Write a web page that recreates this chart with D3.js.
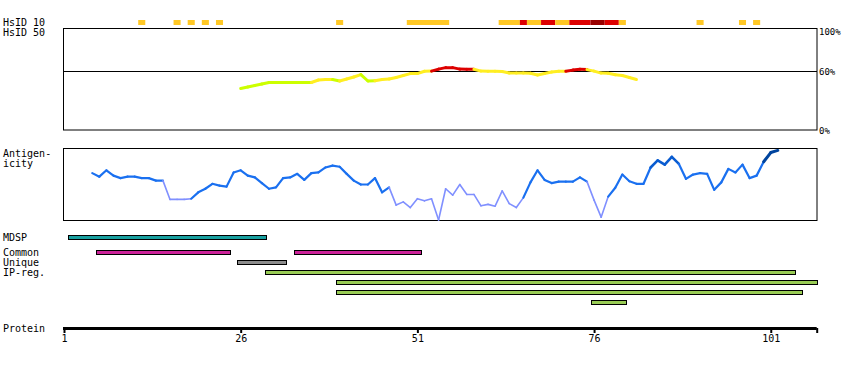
<!DOCTYPE html>
<html>
<head>
<meta charset="utf-8">
<script src="https://cdn.jsdelivr.net/npm/d3@7"></script>
<style>
  body { margin: 0; background: #fff; }
  svg text { font-family: 'DejaVu Sans Mono', monospace; font-size: 10px; fill: #000; }
</style>
</head>
<body>
<div id="chart"></div>
<script>
let proteinLength = 107
let axisTicks = [1, 26, 51, 76, 101]

// HsID 10 hits: [start, end, level] level 1 = orange, 2 = red, 3 = dark red
let hsid10 = [
    [12, 12, 1], [17, 17, 1], [19, 19, 1], [21, 21, 1], [23, 23, 1], [40, 40, 1],
    [50, 55, 1], [63, 65, 1], [66, 66, 2], [67, 68, 1], [69, 70, 2], [71, 72, 1],
    [73, 75, 2], [76, 77, 3], [78, 79, 2], [80, 80, 1], [91, 91, 1], [97, 97, 1], [99, 99, 1]
]

// HsID 50 identity (%) from residue 26 to 82
let hsid50Start = 26
let hsid50 = [42, 43.5, 45, 46.5, 48, 48, 48, 48, 48, 48, 48, 50.5, 51, 51, 49.5, 51.5, 53.5, 56,
    49.5, 49.8, 51, 51.5, 53, 55, 57, 57, 59.3, 59.5, 61.5, 63, 63, 61.5, 61.3, 61.3, 59.5, 59.3,
    59.3, 59, 57.6, 57.6, 57.6, 57.3, 55.5, 57, 58.5, 59.3, 59.3, 60.5, 61.3, 61, 59.5, 57.5, 57.3,
    55.8, 55, 53, 51]
let hsidTicks = [100, 60, 0]

// Antigenicity score (0-100) from residue 5 to 102
let antigenStart = 5
let antigen = [66, 61, 70, 62.5, 59, 61, 61, 59, 59, 55.5, 55.5, 29, 29, 29, 30, 39, 44, 51, 48.5, 47,
    67, 70, 62.5, 60, 52, 44, 46, 59, 60, 65, 56.5, 66, 67, 74, 76.5, 75, 65, 55.5, 50, 50, 59, 39, 46,
    21, 25.5, 17.5, 30, 27, 30, 0, 44, 35, 50, 36, 36, 20, 22, 19.5, 41, 23, 17.5, 31.5, 53, 70, 56.5,
    52, 54, 54, 54, 60, 54, 28, 4, 33, 45.5, 64, 54.5, 51, 51, 74, 84, 78, 89, 79, 58, 64, 66, 65, 42.5,
    53, 72, 67, 78, 59, 62.5, 82, 95, 98]
// antigenicity bands: [start, end, class] 0 low, 1 mid, 2 high, 3 top
let antigenBands = [[5, 15, 1], [16, 19, 0], [20, 47, 1], [48, 66, 0], [67, 75, 1], [76, 78, 0],
    [79, 84, 1], [85, 88, 2], [89, 100, 1], [101, 102, 3]]

// features: [type, start, end, row]
let featureTypes = ['MDSP', 'Common', 'Unique', 'IP-reg.']
let features = [
    ['MDSP', 2, 29, 0], ['Common', 6, 24, 1], ['Common', 34, 51, 1], ['Unique', 26, 32, 2],
    ['IP-reg.', 30, 104, 3], ['IP-reg.', 40, 107, 4], ['IP-reg.', 40, 105, 5], ['IP-reg.', 76, 80, 6]
]

let width = 850
let height = 370
let svg = d3.select('#chart').append('svg')
    .attr('width', width)
    .attr('height', height)

let x = d3.scaleLinear()
    .domain([1, proteinLength + 0.5])
    .range([64, 816.7])

let hsidColor = { 1: '#ffc825', 2: '#dd0000', 3: '#990000' }
let featColor = { 'MDSP': '#18a0a0', 'Common': '#cc2299', 'Unique': '#8c8c8c', 'IP-reg.': '#99cc55' }
let antigenColor = ['#8090ff', '#1a70f0', '#0a5cd0', '#00449e']
let antigenWidth = [1.6, 2.2, 2.6, 3]

// left labels
let labels = [['HsID 10', 3, 26], ['HsID 50', 3, 36], ['Antigen-', 3, 157], ['icity', 3, 167],
    ['MDSP', 3, 241], ['Common', 3, 256], ['Unique', 3, 266], ['IP-reg.', 3, 276], ['Protein', 3, 332]]
svg.selectAll('text.lbl').data(labels).join('text')
    .attr('class', 'lbl')
    .attr('x', d => d[1])
    .attr('y', d => d[2])
    .text(d => d[0])

// HsID 10 row
svg.selectAll('rect.hs10').data(hsid10).join('rect')
    .attr('class', 'hs10')
    .attr('x', d => x(d[0] - 0.5))
    .attr('y', 20)
    .attr('width', d => x(d[1] + 0.5) - x(d[0] - 0.5))
    .attr('height', 5)
    .attr('fill', d => hsidColor[d[2]])

// HsID 50 panel
let yId = d3.scaleLinear().domain([0, 100]).range([130, 31])
svg.append('rect')
    .attr('x', 63.5).attr('y', 28.5)
    .attr('width', 817 - 63.5).attr('height', 130 - 28.5)
    .attr('fill', 'none').attr('stroke', '#000').attr('stroke-width', 1)
svg.append('line')
    .attr('x1', 63.5).attr('x2', 817)
    .attr('y1', Math.round(yId(60)) + 0.5).attr('y2', Math.round(yId(60)) + 0.5)
    .attr('stroke', '#000').attr('stroke-width', 1)
svg.selectAll('text.pct').data(hsidTicks).join('text')
    .attr('class', 'pct')
    .attr('x', 819)
    .attr('y', d => yId(d) + 4)
    .style('font-size', '9px')
    .text(d => d + '%')

let idPts = hsid50.map((v, i) => [hsid50Start + i, v])
let idColor = v => v < 50 ? '#ccff00' : (v < 60 ? '#ffee22' : '#dd0000')
svg.selectAll('line.id50').data(idPts.slice(1)).join('line')
    .attr('class', 'id50')
    .attr('x1', (d, i) => x(idPts[i][0]))
    .attr('y1', (d, i) => yId(idPts[i][1]))
    .attr('x2', d => x(d[0]))
    .attr('y2', d => yId(d[1]))
    .attr('stroke', d => idColor(d[1]))
    .attr('stroke-width', 3)
    .attr('stroke-linecap', 'round')

// Antigenicity panel
let yAg = d3.scaleLinear().domain([0, 100]).range([220, 149])
svg.append('rect')
    .attr('x', 63.5).attr('y', 148.5)
    .attr('width', 817 - 63.5).attr('height', 220.5 - 148.5)
    .attr('fill', 'none').attr('stroke', '#000').attr('stroke-width', 1)

let bandOf = r => antigenBands.find(b => r >= b[0] && r <= b[1])[2]
let agPts = antigen.map((v, i) => [antigenStart + i, v])
svg.selectAll('line.ag').data(agPts.slice(1)).join('line')
    .attr('class', 'ag')
    .attr('x1', (d, i) => x(agPts[i][0]))
    .attr('y1', (d, i) => yAg(agPts[i][1]))
    .attr('x2', d => x(d[0]))
    .attr('y2', d => yAg(d[1]))
    .attr('stroke', d => antigenColor[bandOf(d[0])])
    .attr('stroke-width', d => antigenWidth[bandOf(d[0])])
    .attr('stroke-linecap', 'round')

// feature bars
let rowY = r => r === 0 ? 235.5 : 240.5 + 10 * r
svg.selectAll('rect.feat').data(features).join('rect')
    .attr('class', 'feat')
    .attr('x', d => Math.round(x(d[1] - 0.5)) + 0.5)
    .attr('y', d => rowY(d[3]))
    .attr('width', d => Math.round(x(d[2] + 0.5) - x(d[1] - 0.5)))
    .attr('height', 4)
    .attr('fill', d => featColor[d[0]])
    .attr('stroke', '#000')
    .attr('stroke-width', 1)

// protein axis
let axis = d3.axisBottom(x)
    .tickValues(axisTicks.concat([proteinLength + 0.5]))
    .tickFormat(d => axisTicks.includes(d) ? d : '')
    .tickSize(5)
    .tickPadding(2)
let ax = svg.append('g')
    .attr('transform', 'translate(0,328)')
    .call(axis)
ax.select('.domain')
    .attr('d', `M${x(1) - 1},0.5H${x(proteinLength + 0.5)}`)
    .attr('stroke-width', 3)
ax.selectAll('.tick line').attr('stroke-width', 2)
ax.selectAll('.tick text')
    .style('font-family', "'DejaVu Sans Mono', monospace")
    .style('font-size', '10px')
    .attr('fill', '#000')
</script>
</body>
</html>
